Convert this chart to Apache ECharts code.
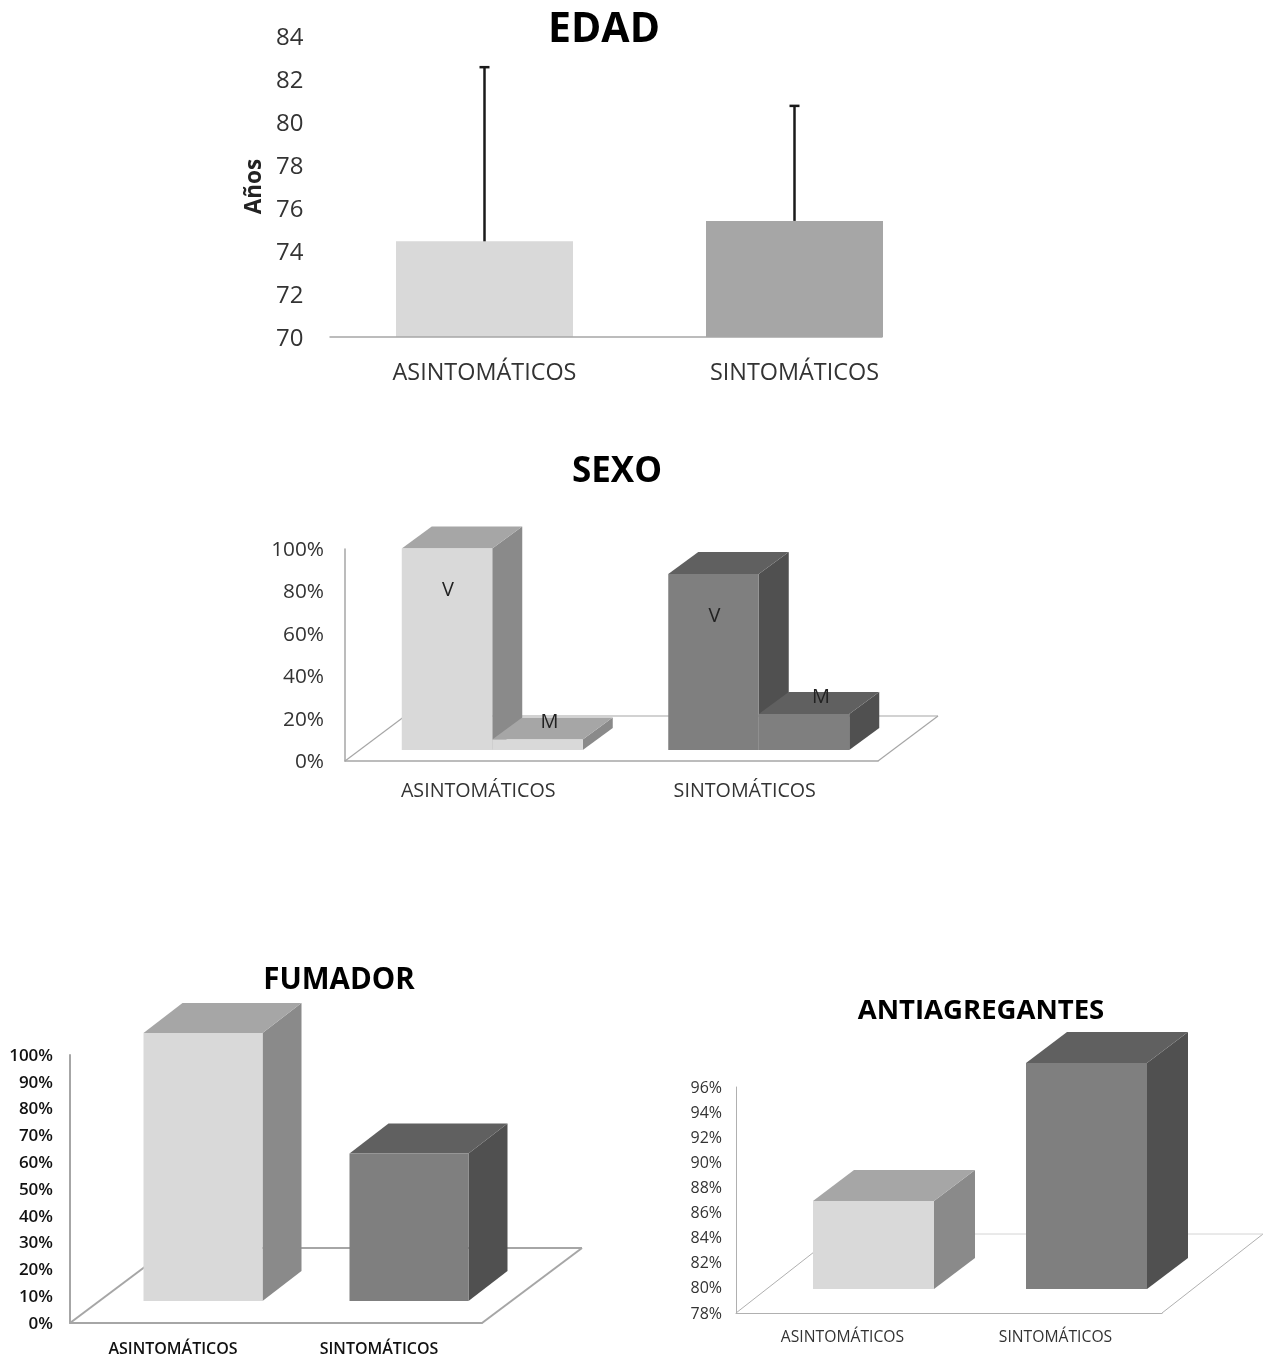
<!DOCTYPE html>
<html>
<head>
<meta charset="utf-8">
<style>html,body{margin:0;padding:0;background:#fff}#c{width:1269px;height:1359px}</style>
<script src="https://cdn.jsdelivr.net/npm/echarts@6/dist/echarts.min.js"></script>
</head>
<body>
<div id="c"></div>
<script>
const categories = ['ASINTOMÁTICOS', 'SINTOMÁTICOS'];
const edadMedia = [74.45, 75.4];
const edadDesviacion = [8.1, 5.35];
const sexoV = [95, 83];
const sexoM = [5, 17];
const fumador = [100, 55];
const antiagregantes = [85, 96];

const FONT = '"Open Sans", sans-serif';
const LIGHT = { front: '#d9d9d9', side: '#8a8a8a', top: '#a6a6a6' };
const DARK = { front: '#7f7f7f', side: '#505050', top: '#606060' };

const grids = [
  { left: 329.5, top: 36, width: 620, height: 301 },
  { left: 345, top: 549, width: 533, height: 212 },
  { left: 70, top: 1055, width: 412, height: 268 },
  { left: 736, top: 1087, width: 426, height: 226 }
];

function xAx(i, size, margin, color, weight, lineColor, lineWidth) {
  return {
    type: 'category', gridIndex: i, data: categories,
    axisTick: { show: false },
    axisLine: lineColor ? { show: true, lineStyle: { color: lineColor, width: lineWidth } } : { show: false },
    axisLabel: { fontFamily: FONT, fontSize: size, margin, color, fontWeight: weight, interval: 0 }
  };
}
function yAx(i, min, max, interval, size, margin, color, weight, pct, lineColor, lineWidth, shiftDown) {
  return {
    type: 'value', gridIndex: i, min, max, interval,
    splitLine: { show: false },
    axisTick: { show: false },
    axisLine: lineColor ? { show: true, lineStyle: { color: lineColor, width: lineWidth } } : { show: false },
    axisLabel: { margin,
      formatter: v => '{a|' + v + (pct ? '%' : '') + '}',
      rich: { a: { fontFamily: FONT, fontSize: size, color, fontWeight: weight, padding: [shiftDown * 2, 0, 0, 0] } }
    }
  };
}

// Floor of a pseudo-3D chart: diagonal edges and back line, drawn from the grid rectangle.
function floorSeries(i, depth, lineColor, lineWidth, backColor) {
  return {
    type: 'custom', xAxisIndex: i, yAxisIndex: i, z: 1, silent: true,
    data: [[0, 0]],
    renderItem(params) {
      const r = params.coordSys;
      const b = r.y + r.height, R = r.x + r.width;
      const s = { stroke: lineColor, lineWidth, fill: null };
      return { type: 'group', children: [
        { type: 'line', shape: { x1: r.x, y1: b, x2: r.x + depth.dx, y2: b - depth.dy }, style: s },
        { type: 'line', shape: { x1: R, y1: b, x2: R + depth.dx, y2: b - depth.dy }, style: s },
        { type: 'line', shape: { x1: r.x + depth.dx, y1: b - depth.dy, x2: R + depth.dx, y2: b - depth.dy },
          style: { stroke: backColor || lineColor, lineWidth, fill: null } }
      ] };
    }
  };
}

// A prism series: one front face, one side face and one top face per category.
function prismSeries(i, values, baseValue, geo, palette, slot, labels) {
  return {
    type: 'custom', xAxisIndex: i, yAxisIndex: i, z: 2 + slot, silent: true,
    data: values.map((v, k) => [k, v]),
    renderItem(params, api) {
      const k = api.value(0);
      const c = api.coord([k, api.value(1)]);
      const b = api.coord([k, baseValue]);
      const pal = palette[k];
      const x0 = c[0] + geo.offX + geo.shift + slot * geo.barW;
      const x1 = x0 + geo.barW;
      const yt = c[1] - geo.offY, yb = b[1] - geo.offY;
      const d = geo.dx, e = geo.dy;
      const children = [
        { type: 'polygon', shape: { points: [[x1, yt], [x1 + d, yt - e], [x1 + d, yb - e], [x1, yb]] }, style: { fill: pal.side } },
        { type: 'polygon', shape: { points: [[x0, yt], [x1, yt], [x1 + d, yt - e], [x0 + d, yt - e]] }, style: { fill: pal.top } },
        { type: 'rect', shape: { x: x0, y: yt, width: x1 - x0, height: yb - yt }, style: { fill: pal.front } }
      ];
      if (labels) {
        children.push({ type: 'text', style: {
          text: labels.text, x: (x0 + x1) / 2 + labels.dx[k], y: yt + labels.dy,
          fill: '#222', font: '20px ' + FONT, textAlign: 'center', textVerticalAlign: 'middle'
        } });
      }
      return { type: 'group', children };
    }
  };
}

function titleOf(text, x, y, size) {
  return { text, left: x, top: y, textAlign: 'center', textVerticalAlign: 'middle', padding: 0,
    textStyle: { fontFamily: FONT, fontSize: size, fontWeight: 'bold', color: '#000' } };
}

const geoSexo = { barW: 90.5, offX: 14, offY: 11, dx: 30, dy: 22, shift: -90.5 };
const geoFum = { barW: 119, offX: 30, offY: 22, dx: 39, dy: 30, shift: -59.5 };
const geoAnti = { barW: 121, offX: 31, offY: 24, dx: 41, dy: 31, shift: -60.5 };
const pal2 = [LIGHT, DARK];

const option = {
  animation: false,
  backgroundColor: '#fff',
  title: [
    titleOf('EDAD', 604, 30, 41),
    titleOf('SEXO', 617, 472, 35),
    titleOf('FUMADOR', 339, 981, 29.5),
    titleOf('ANTIAGREGANTES', 981, 1011, 27.5)
  ],
  grid: grids,
  xAxis: [
    xAx(0, 23.4, 25, '#333', 'normal'),
    xAx(1, 19.7, 20, '#333', 'normal', '#a6a6a6', 1.5),
    xAx(2, 16, 18, '#111', 600, '#a6a6a6', 2),
    xAx(3, 15.7, 17, '#333', 'normal', '#b0b0b0', 1)
  ],
  yAxis: [
    Object.assign(yAx(0, 70, 84, 2, 24, 26, '#333', 'normal', false, null, 0, 2), {
      name: 'Años', nameLocation: 'middle', nameRotate: 90, nameGap: 63,
      nameTextStyle: { fontFamily: FONT, fontSize: 22.5, fontWeight: 'bold', color: '#222' }
    }),
    yAx(1, 0, 100, 20, 20.8, 21, '#333', 'normal', true, '#a6a6a6', 1.5, 1),
    yAx(2, 0, 100, 10, 17, 17, '#111', 600, true, '#a6a6a6', 2, 1),
    yAx(3, 78, 96, 2, 16, 14, '#333', 'normal', true, '#b0b0b0', 1, 1)
  ],
  series: [
    // EDAD
    {
      type: 'custom', xAxisIndex: 0, yAxisIndex: 0, z: 3, silent: true,
      data: [[1, 70]],
      renderItem(params, api) {
        const r = params.coordSys;
        const p = api.coord([1, 70]);
        return { type: 'line', shape: { x1: r.x, y1: p[1], x2: p[0] + 88, y2: p[1] }, style: { stroke: '#a6a6a6', lineWidth: 1.5 } };
      }
    },
    {
      type: 'bar', xAxisIndex: 0, yAxisIndex: 0, barWidth: 177, z: 2, silent: true,
      data: [
        { value: edadMedia[0], itemStyle: { color: '#d9d9d9' } },
        { value: edadMedia[1], itemStyle: { color: '#a6a6a6' } }
      ]
    },
    {
      type: 'custom', xAxisIndex: 0, yAxisIndex: 0, z: 4, silent: true,
      data: edadMedia.map((m, k) => [k, m, m + edadDesviacion[k]]),
      renderItem(params, api) {
        const a = api.coord([api.value(0), api.value(1)]);
        const b = api.coord([api.value(0), api.value(2)]);
        const s = { stroke: '#1a1a1a', lineWidth: 2.5 };
        return { type: 'group', children: [
          { type: 'line', shape: { x1: a[0], y1: a[1], x2: b[0], y2: b[1] }, style: s },
          { type: 'line', shape: { x1: b[0] - 5, y1: b[1], x2: b[0] + 5, y2: b[1] }, style: s }
        ] };
      }
    },
    // SEXO
    floorSeries(1, { dx: 60, dy: 45 }, '#a6a6a6', 1.2),
    prismSeries(1, sexoV, 0, geoSexo, pal2, 0, { text: 'V', dx: [1, 1], dy: 42 }),
    prismSeries(1, sexoM, 0, geoSexo, pal2, 1, { text: 'M', dx: [12, 17], dy: -17 }),
    // FUMADOR
    floorSeries(2, { dx: 100, dy: 75 }, '#a6a6a6', 2),
    prismSeries(2, fumador, 0, geoFum, pal2, 0),
    // ANTIAGREGANTES
    floorSeries(3, { dx: 101, dy: 79 }, '#b0b0b0', 1, '#d4d4d4'),
    prismSeries(3, antiagregantes, 78, geoAnti, pal2, 0)
  ]
};
echarts.init(document.getElementById('c'), null, { renderer: 'canvas' }).setOption(option);
</script>
</body>
</html>
